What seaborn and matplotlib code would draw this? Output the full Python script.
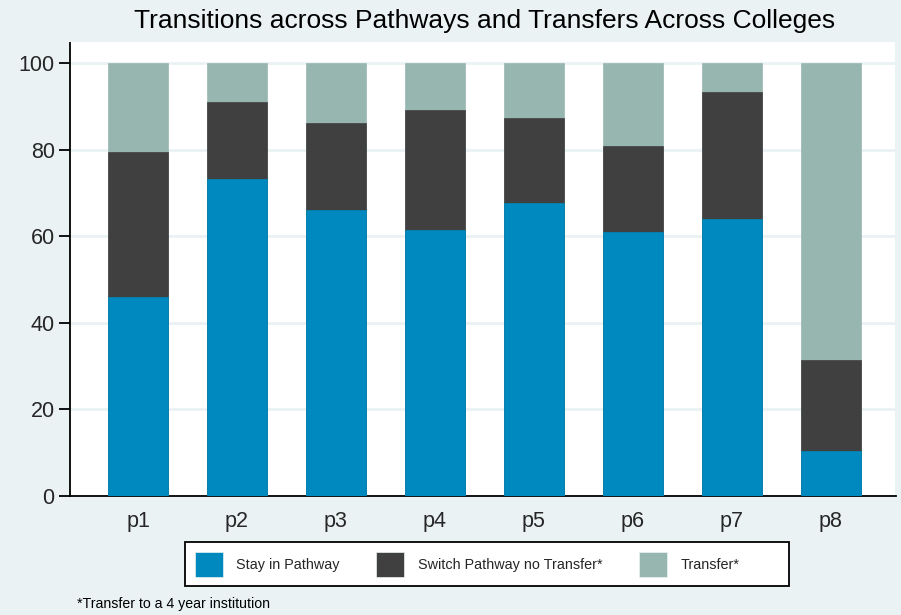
import numpy as np
import pandas as pd
import seaborn as sns
import matplotlib.pyplot as plt
from matplotlib.patches import Patch, Rectangle

sns.set_theme(style="white")
plt.rcParams["font.family"] = ["Liberation Sans", "DejaVu Sans"]

# values (percent of students)
pathways = ["p1", "p2", "p3", "p4", "p5", "p6", "p7", "p8"]
stay = [46.1, 73.2, 66.1, 61.6, 67.7, 61.1, 64.1, 10.4]
switch = [33.5, 18.0, 20.2, 27.6, 19.7, 19.8, 29.3, 21.1]
transfer = [20.4, 8.8, 13.7, 10.8, 12.6, 19.1, 6.6, 68.5]
series = ["Stay in Pathway", "Switch Pathway no Transfer*", "Transfer*"]
colors = ["#0089BE", "#404040", "#98B6B0"]
y_ticks = [0, 20, 40, 60, 80, 100]

df = pd.DataFrame({"pathway": pathways, "stay": stay,
                   "switch": switch, "transfer": transfer})
df["top_switch"] = df["stay"] + df["switch"]
df["top_transfer"] = df["top_switch"] + df["transfer"]

bg = "#EAF2F3"
W, H = 901, 615
fig = plt.figure(figsize=(W / 100, H / 100), dpi=100, facecolor=bg)
ax = fig.add_axes([70 / W, 1 - 496 / H, 826 / W, 455 / H])
ax.set_facecolor("white")

# stacked bars: draw cumulative totals back to front
for col, c in zip(["top_transfer", "top_switch", "stay"], colors[::-1]):
    sns.barplot(data=df, x="pathway", y=col, color=c, width=0.606,
                errorbar=None, saturation=1, ax=ax, zorder=3,
                edgecolor=c, linewidth=0.5)

ax.set_xlim(-0.687, 7.657)
ax.set_ylim(0, 105.2)
ax.set_yticks(y_ticks)
ax.set_xlabel("")
ax.set_ylabel("")
ax.grid(axis="y", color=bg, linewidth=2, zorder=0)
ax.grid(axis="x", visible=False)

for s in ["top", "right"]:
    ax.spines[s].set_color(bg)
    ax.spines[s].set_linewidth(1.5)
for s in ["left", "bottom"]:
    ax.spines[s].set_color("black")
    ax.spines[s].set_linewidth(1.3)
ax.tick_params(axis="y", which="major", left=True, length=8, width=1.3,
               color="black", labelsize=15.5, pad=3)
ax.tick_params(axis="x", bottom=False, labelsize=15.5, pad=5)

fig.text((136 + 833) / 2 / W, 1 - 21 / H,
         "Transitions across Pathways and Transfers Across Colleges",
         ha="center", va="center", fontsize=19, color="black")

# legend box (Stata leaves extra room on the right)
fig.add_artist(Rectangle((184.6 / W, 1 - 586 / H), (788.8 - 184.6) / W,
                         (586 - 542.3) / H, transform=fig.transFigure,
                         facecolor="white", edgecolor="black", linewidth=1.3,
                         zorder=1))
handles = [Patch(facecolor=c, edgecolor=bg, linewidth=0.5) for c in colors]
leg = fig.legend(handles, series, loc="center left", ncol=3,
                 bbox_to_anchor=(194.5 / W, 1 - 564.5 / H),
                 fontsize=10.4, frameon=False,
                 handlelength=1.94, handleheight=2.29, handletextpad=0.96,
                 columnspacing=2.5, borderpad=0, borderaxespad=0)
leg.set_zorder(2)

fig.text(77 / W, 1 - 604 / H, "*Transfer to a 4 year institution",
         ha="left", va="center", fontsize=10.2, color="black")

fig.savefig("out.png", dpi=100, facecolor=bg)
